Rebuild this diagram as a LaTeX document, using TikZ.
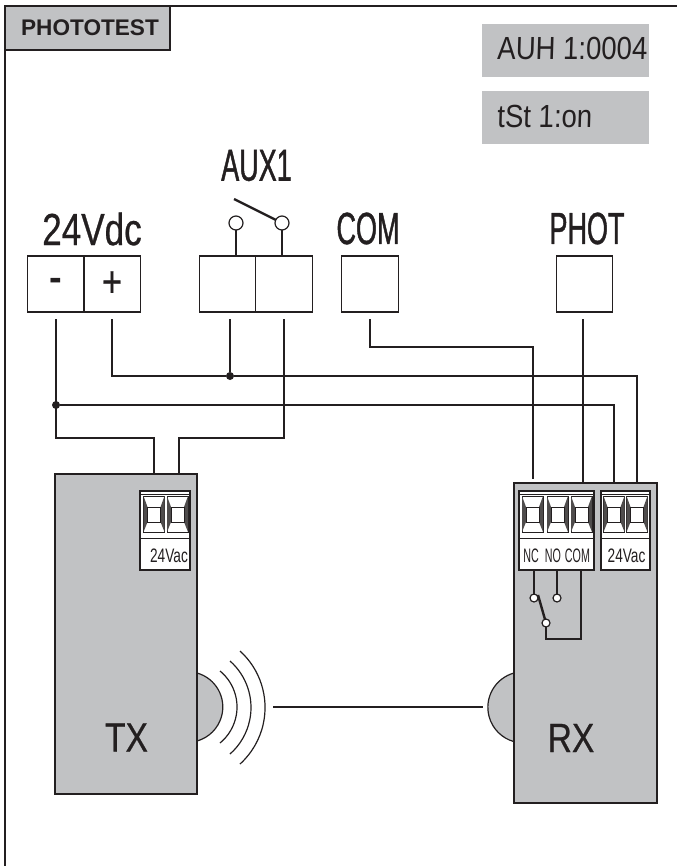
\documentclass[tikz,border=0pt]{standalone}
\usepackage{fontspec}
\setmainfont{Liberation Sans}
\newfontfamily\labelfont[FakeStretch=.6,FakeBold=1]{Liberation Sans}
\newfontfamily\voltfont[FakeStretch=.78,FakeBold=.6]{Liberation Sans}
\newfontfamily\bodyfont[FakeStretch=.82,FakeBold=.6]{Liberation Sans}
\newfontfamily\pinfont[FakeStretch=.55]{Liberation Sans}
\newfontfamily\acfont[FakeStretch=.7]{Liberation Sans}
\newfontfamily\lcdfont[FakeStretch=.86,FakeSlant=.03]{Liberation Sans}
\definecolor{panel}{HTML}{C1C2C4}
\definecolor{ink}{HTML}{231F20}
\tikzset{
  termbox/.style={draw=ink, line width=1.3pt, outer sep=0pt, minimum width=56.5pt, minimum height=56pt, inner sep=0pt},
  body/.style={draw=ink, fill=panel, line width=1.4pt, outer sep=0pt, inner sep=0pt},
  wire/.style={draw=ink, line width=1.2pt},
  joint/.style={circle, fill=ink, minimum size=8pt, inner sep=0pt},
  contact/.style={circle, draw=ink, fill=white, line width=1.2pt, outer sep=0pt, minimum size=14pt, inner sep=0pt},
  relaypin/.style={contact, minimum size=8pt},
  block/.style={draw=ink, fill=white, line width=1.2pt, outer sep=0pt, minimum height=79pt, inner sep=0pt},
  screw/.style={draw=ink, fill=white, line width=1pt, outer sep=0pt, minimum width=21pt, minimum height=36pt, inner sep=0pt},
  lcd/.style={fill=panel, minimum width=167pt, minimum height=53pt, inner sep=0pt},
  lcdtext/.style={text=ink, anchor=west, inner sep=0pt, font=\fontsize{32}{32}\lcdfont},
  big/.style={text=ink, inner sep=0pt, font=\fontsize{45}{45}\labelfont},
  pin/.style={text=ink, inner sep=0pt, font=\fontsize{19.5}{20}\pinfont},
  ac/.style={text=ink, inner sep=0pt, font=\fontsize{19.5}{20}\acfont},
}
\begin{document}
\begin{tikzpicture}[x=1pt, y=-1pt]
    \useasboundingbox (0,0) rectangle (677,866);
    % frame and title
    \draw[ink, line width=2pt] (5,866) -- (5,6) -- (677,6);
    \node[body, line width=1.7pt, minimum width=165pt, minimum height=44pt, text=ink, font=\fontsize{22.6}{23}\bfseries] (title) at (87.5,28) {\hspace*{5pt}PHOTOTEST};
    \node[lcd] (lcda) at (565.5,50.5) {};
    \node[lcd] (lcdb) at (565.5,117.5) {};
    \node[lcdtext] (lcdatext) at (497,48.5) {AUH 1:0004};
    \node[lcdtext] (lcdbtext) at (497,116) {tSt 1:on};
    % place terminals
    \node[termbox, font=\fontsize{38}{38}\bfseries, text=ink] (minus) at (56,284) {\raisebox{-3pt}{-}};
    \node[termbox, font=\fontsize{44}{44}\voltfont, text=ink] (plus) at (112,284) {+};
    \node[termbox] (auxa) at (227.5,284) {};
    \node[termbox] (auxb) at (284,284) {};
    \node[termbox] (com) at (370,284) {};
    \node[termbox] (phot) at (584.5,284) {};
    \node[big, font=\fontsize{45}{45}\voltfont] (volt) at (92,229) {24Vdc};
    \node[big] (auxlabel) at (256.5,165.5) {AUX1};
    \node[big] (comlabel) at (368,228.5) {COM};
    \node[big] (photlabel) at (587,228.5) {PHOT};
    % aux contact
    \node[contact] (conta) at (236,223) {};
    \node[contact] (contb) at (282,223) {};
    \coordinate (swtop) at (234,199);
    \draw[wire] (conta) -- (conta |- auxa.north);
    \draw[wire] (contb) -- (contb |- auxb.north);
    \draw[ink, line width=2.4pt] (swtop) -- (contb);
    % lenses and waves
    \draw[body, line width=1.2pt] (197,673) arc (-74.4:74.4:35.3);
    \draw[body, line width=1.2pt] (514,673) arc (-105.4:-254.6:35.6);
    \draw[ink, line width=1.2pt] (220,671) arc (-50.6:50.6:46.6);
    \draw[ink, line width=1.2pt] (230,661) arc (-48.6:48.6:62);
    \draw[ink, line width=1.2pt] (240,651) arc (-47.8:47.8:76.3);
    % place units
    \node[body, minimum width=142pt, minimum height=320pt] (tx) at (126,634) {};
    \node[body, minimum width=143pt, minimum height=320pt] (rx) at (585.5,643) {};
    \node[text=ink, inner sep=0pt, font=\fontsize{41}{41}\bodyfont] (txlabel) at (126.5,737.5) {TX};
    \node[text=ink, inner sep=0pt, font=\fontsize{41}{41}\bodyfont] (rxlabel) at (571,738) {RX};
    \coordinate (beama) at (273,707);
    \coordinate (beamb) at (483,707);
    \draw[ink, line width=2.2pt] (beama) -- (beamb);
    % terminal blocks
    \node[block, minimum width=50pt] (txac) at (165,530.5) {};
    \node[block, minimum width=75pt] (rxrel) at (556.5,530.5) {};
    \node[block, minimum width=49pt] (rxac) at (625.5,530.5) {};
    \node[screw] (txa) at (154,514) {};
    \node[screw] (txb) at (177.5,514) {};
    \node[screw] (rxnc) at (532.5,514) {};
    \node[screw] (rxno) at (557.5,514) {};
    \node[screw] (rxcom) at (581.5,514) {};
    \node[screw] (rxaca) at (614,514) {};
    \node[screw] (rxacb) at (637,514) {};
    \foreach \cell in {txa,txb,rxnc,rxno,rxcom,rxaca,rxacb} {
      \fill[ink!80] (\cell.north west) -- ++(4,11) -- ++(0,15) -- (\cell.south west) -- cycle;
      \fill[ink!80] (\cell.north east) -- ++(-4,11) -- ++(0,15) -- (\cell.south east) -- cycle;
      \draw[ink, line width=1pt] (\cell.north west) ++(4,11) rectangle ++(13,15);
    }
    \foreach \blk in {txac,rxrel,rxac} {
      \draw[ink, line width=1pt] ([yshift=-3pt]\blk.north west) -- ([yshift=-3pt]\blk.north east);
      \draw[ink, line width=1pt] ([yshift=-47pt]\blk.north west) -- ([yshift=-47pt]\blk.north east);
    }
    \node[ac] (txaclabel) at (169,556) {24Vac};
    \node[ac] (rxaclabel) at (626.5,556) {24Vac};
    \node[pin] (nclabel) at (531,556) {NC};
    \node[pin] (nolabel) at (553,556) {NO};
    \node[pin] (comrel) at (577.5,556) {COM};
    % relay inside rx
    \node[relaypin] (relnc) at (534,598) {};
    \node[relaypin] (relno) at (557,598) {};
    \node[relaypin] (relc) at (546,623) {};
    \coordinate (relarm) at (538,595);
    \coordinate (relturn) at (581,639);
    \draw[wire] (relnc) -- (relnc |- rxrel.south);
    \draw[wire] (relno) -- (relno |- rxrel.south);
    \draw[wire] (relc) |- (relturn) -- (relturn |- rxrel.south);
    \draw[ink, line width=2.4pt] (relarm) -- (relc);
    % draw edges
    \node[joint] (dotplus) at (230,376) {};
    \node[joint] (dotminus) at (56,405) {};
    \coordinate (txbusa) at (154,438);
    \coordinate (txbusb) at (179,438);
    \coordinate (combus) at (533,347);
    \draw[wire, shorten <=7pt] (minus.south) |- (txbusa) -- (txbusa |- tx.north);
    \draw[wire, shorten <=7pt] (auxb.south) |- (txbusb) -- (txbusb |- tx.north);
    \draw[wire, shorten <=7pt] (plus.south) |- (dotplus);
    \draw[wire] (dotplus) -| (rxacb |- rx.north);
    \draw[wire, shorten <=7pt] (dotplus |- auxa.south) -- (dotplus);
    \draw[wire] (dotminus) -| (rxaca |- rx.north);
    \draw[wire, shorten <=7pt, shorten >=4pt] (com.south) |- (combus) -- (combus |- rx.north);
    \draw[wire, shorten <=7pt] ([xshift=-1.5pt]phot.south) -- ([xshift=-1.5pt]phot.south |- rx.north);
  \end{tikzpicture}
\end{document}
